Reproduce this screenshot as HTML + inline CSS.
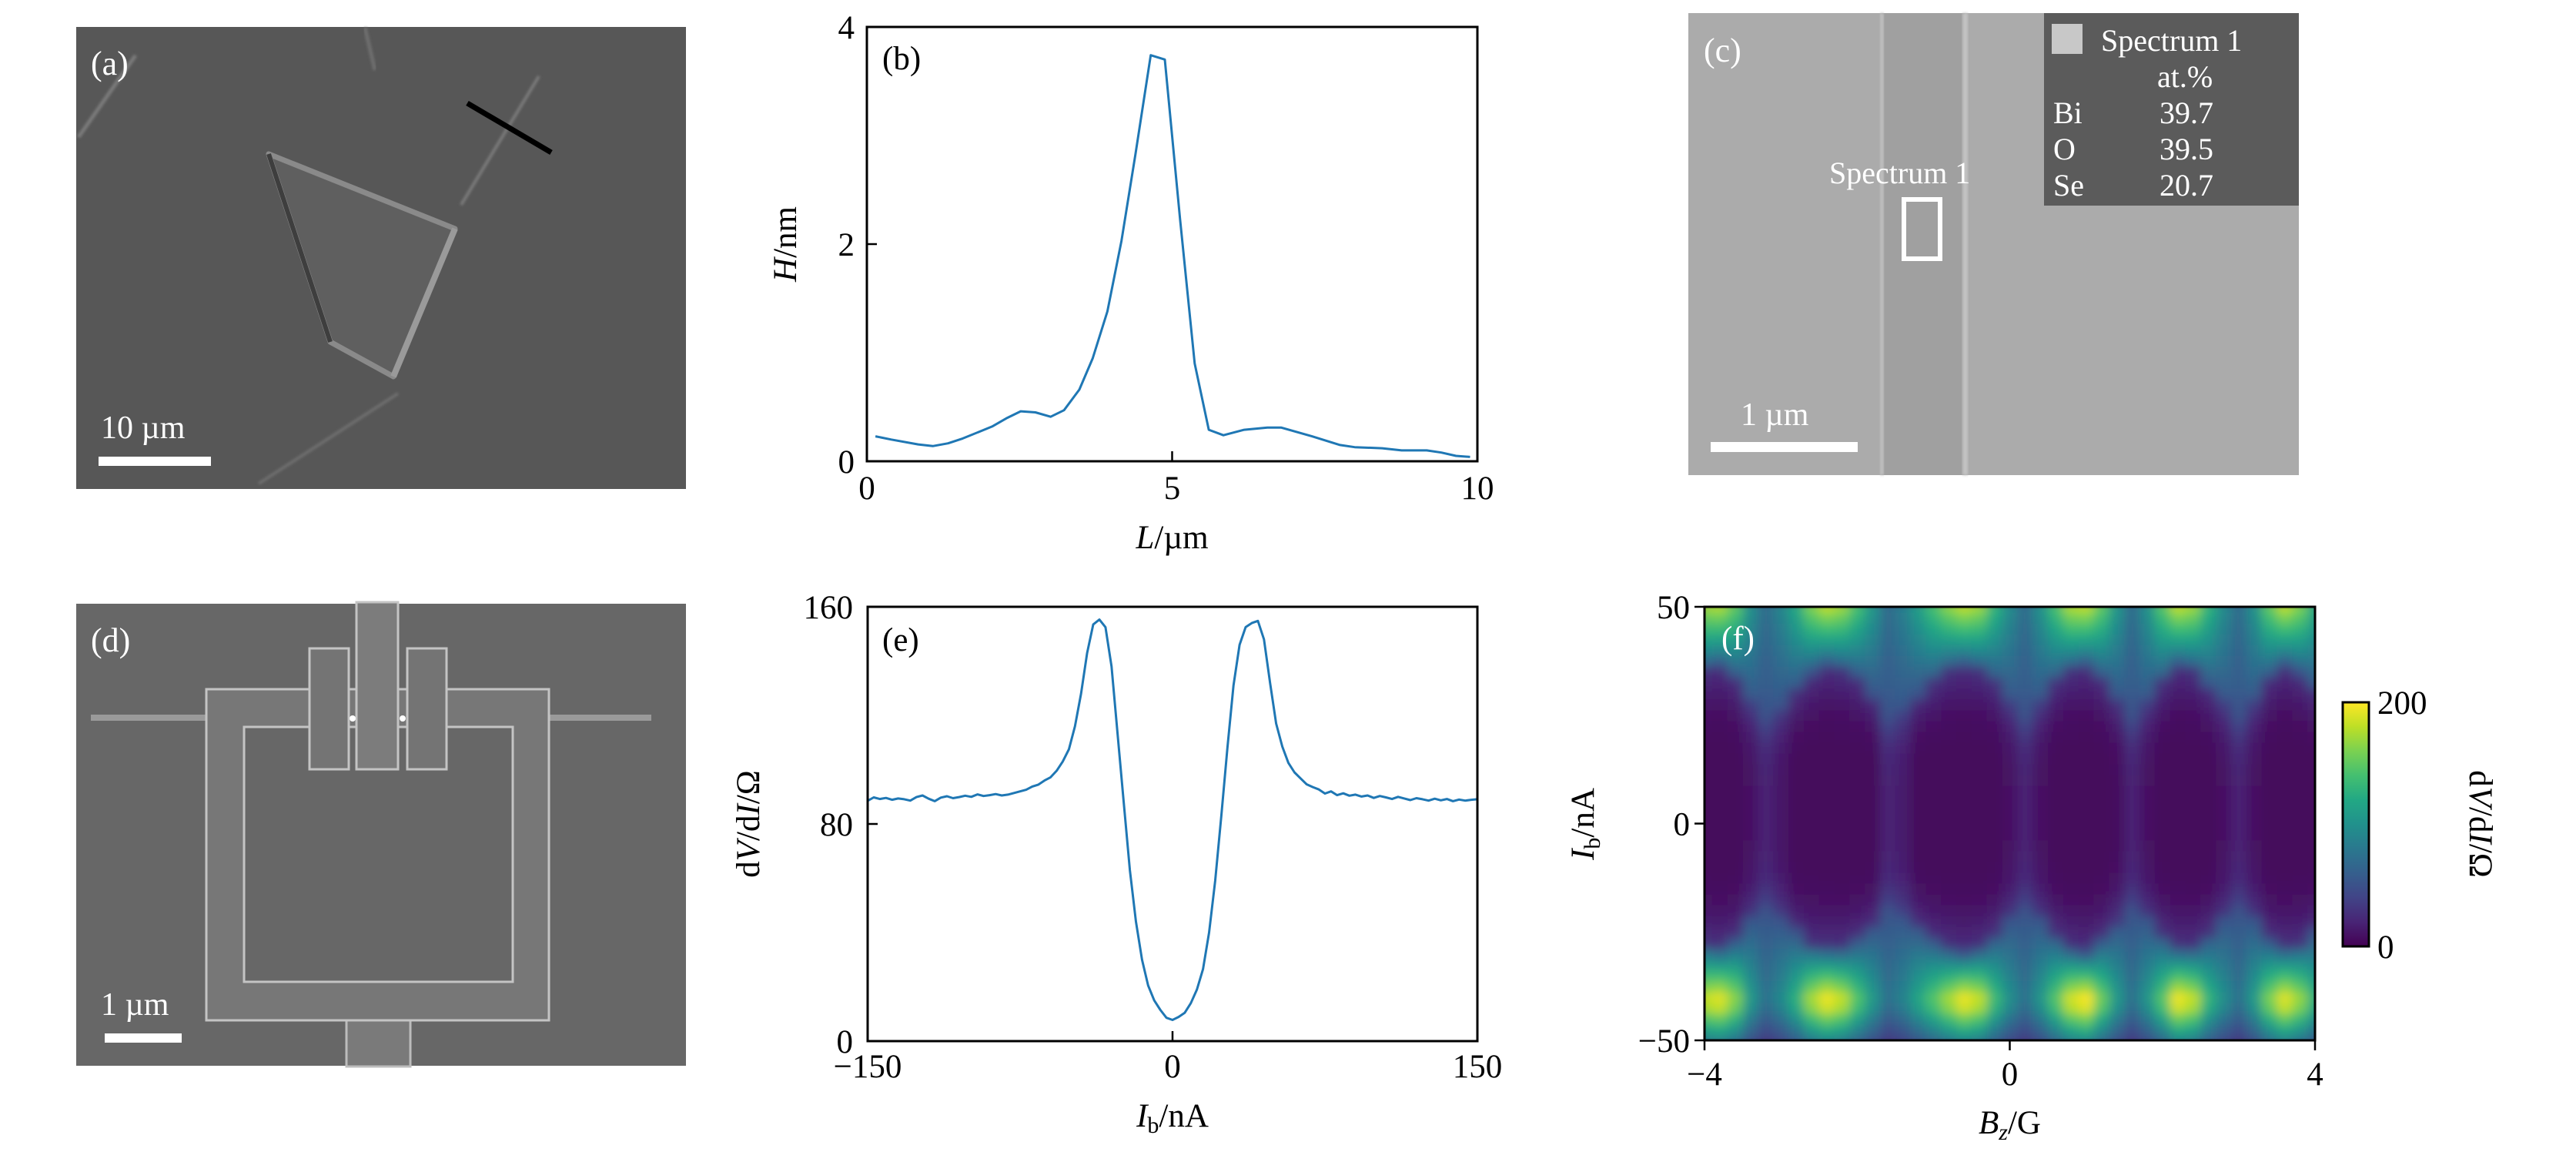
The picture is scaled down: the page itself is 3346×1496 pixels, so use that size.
<!DOCTYPE html>
<html><head><meta charset="utf-8">
<style>
html,body{margin:0;padding:0;background:#fff;}
svg{display:block;}
text{font-family:"Liberation Serif",serif;}
</style></head>
<body>
<svg id="fig" width="3346" height="1496" viewBox="0 0 3346 1496" xmlns="http://www.w3.org/2000/svg">
<defs>
  <linearGradient id="viridis" x1="0" y1="1" x2="0" y2="0">
    <stop offset="0" stop-color="#440154"/><stop offset="0.1" stop-color="#482475"/>
    <stop offset="0.2" stop-color="#414487"/><stop offset="0.3" stop-color="#355f8d"/>
    <stop offset="0.4" stop-color="#2a788e"/><stop offset="0.5" stop-color="#21918c"/>
    <stop offset="0.6" stop-color="#22a884"/><stop offset="0.7" stop-color="#44bf70"/>
    <stop offset="0.8" stop-color="#7ad151"/><stop offset="0.9" stop-color="#bddf26"/>
    <stop offset="1" stop-color="#fde725"/>
  </linearGradient>
  <clipPath id="clipF"><rect x="2214" y="788" width="793" height="563"/></clipPath>
  <clipPath id="clipB"><rect x="1126" y="35" width="793" height="564"/></clipPath>
  <clipPath id="clipE"><rect x="1127" y="788" width="792" height="564"/></clipPath>
  <filter id="blurF" x="-5%" y="-5%" width="110%" height="110%"><feGaussianBlur stdDeviation="7 6"/></filter>
  <filter id="soft"><feGaussianBlur stdDeviation="1.5"/></filter>
</defs>

<!-- Panel (a) SEM image -->
<g transform="translate(99,35)">
  <rect width="792" height="600" fill="#575757"/>
  <line x1="77" y1="37" x2="3" y2="143" stroke="#7a7a7a" stroke-width="5" filter="url(#soft)"/>
  <line x1="375" y1="1" x2="388" y2="56" stroke="#6e6e6e" stroke-width="5" filter="url(#soft)"/>
  <line x1="601" y1="64" x2="500" y2="231" stroke="#7a7a7a" stroke-width="4" filter="url(#soft)"/>
  <line x1="418" y1="476" x2="237" y2="593" stroke="#6e6e6e" stroke-width="4" filter="url(#soft)"/>
  <polygon points="250,165 492,262 412,454 330,409" fill="#5f5f5f" stroke="#8a8a8a" stroke-width="7" stroke-linejoin="round"/>
  <line x1="250" y1="165" x2="330" y2="409" stroke="#3e3e3e" stroke-width="6"/>
  <line x1="492" y1="262" x2="412" y2="454" stroke="#9a9a9a" stroke-width="8"/>
  <line x1="508" y1="99" x2="617" y2="163" stroke="#000" stroke-width="7"/>
  <rect x="29" y="558" width="146" height="12" fill="#fff"/>
  <text x="32" y="534" font-size="42" fill="#fff">10 µm</text>
  <text x="19" y="62" font-size="44" fill="#fff">(a)</text>
</g>

<!-- Panel (d) SEM image -->
<g transform="translate(99,784)">
  <rect width="792" height="600" fill="#676767"/>
  <rect x="351" y="541" width="83" height="60" fill="#7a7a7a" stroke="#bcbcbc" stroke-width="3"/>
  <rect x="19" y="144" width="728" height="8" fill="#9a9a9a"/>
  <path d="M169,111 H614 V541 H169 Z M218,160 V491 H567 V160 Z" fill="#777" fill-rule="evenodd" stroke="#c4c4c4" stroke-width="3"/>
  <rect x="303" y="58" width="51" height="157" fill="#747474" stroke="#c4c4c4" stroke-width="3"/>
  <rect x="430" y="58" width="51" height="157" fill="#747474" stroke="#c4c4c4" stroke-width="3"/>
  <rect x="364" y="-2" width="54" height="217" fill="#7c7c7c" stroke="#c4c4c4" stroke-width="3"/>
  <circle cx="359" cy="149" r="4" fill="#fff"/>
  <circle cx="424" cy="149" r="4" fill="#fff"/>
  <rect x="37" y="558" width="100" height="12" fill="#fff"/>
  <text x="32" y="534" font-size="42" fill="#fff">1 µm</text>
  <text x="19" y="62" font-size="44" fill="#fff">(d)</text>
</g>

<!-- Panel (c) SEM/EDS image -->
<g transform="translate(2193,17)">
  <rect width="793" height="600" fill="#ababab"/>
  <rect x="251" y="0" width="108" height="600" fill="#a0a0a0"/>
  <rect x="249" y="0" width="5" height="600" fill="#c0c0c0" filter="url(#soft)"/>
  <rect x="356" y="0" width="7" height="600" fill="#c2c2c2" filter="url(#soft)"/>
  <rect x="280" y="242" width="47" height="77" fill="none" stroke="#fff" stroke-width="6"/>
  <text x="183" y="221" font-size="40" fill="#fff">Spectrum 1</text>
  <rect x="462" y="0" width="331" height="250" fill="#5b5b5b"/>
  <rect x="472" y="14" width="40" height="39" fill="#c8c8c8"/>
  <text x="536" y="49" font-size="40" fill="#fff">Spectrum 1</text>
  <text x="609" y="96" font-size="40" fill="#fff">at.%</text>
  <text x="474" y="143" font-size="40" fill="#fff">Bi</text>
  <text x="612" y="143" font-size="40" fill="#fff">39.7</text>
  <text x="474" y="190" font-size="40" fill="#fff">O</text>
  <text x="612" y="190" font-size="40" fill="#fff">39.5</text>
  <text x="474" y="237" font-size="40" fill="#fff">Se</text>
  <text x="612" y="237" font-size="40" fill="#fff">20.7</text>
  <rect x="29" y="557" width="191" height="13" fill="#fff"/>
  <text x="68" y="535" font-size="42" fill="#fff">1 µm</text>
  <text x="20" y="63" font-size="44" fill="#fff">(c)</text>
</g>

<g id="plotB"></g>
<g id="plotE"></g>
<g id="plotF"></g>
</svg>

<script>
// ---------- Panel (b) data ----------
const lB = [0.14,0.40,0.84,1.08,1.33,1.57,2.05,2.30,2.52,2.76,3.01,3.23,3.48,3.70,3.94,4.17,4.40,4.65,4.88,5.13,5.37,5.60,5.84,6.18,6.56,6.79,7.29,7.75,7.99,8.44,8.76,9.17,9.41,9.65,9.88];
const hB = [0.23,0.20,0.155,0.14,0.165,0.21,0.32,0.40,0.46,0.45,0.41,0.47,0.66,0.95,1.38,2.03,2.83,3.74,3.70,2.23,0.90,0.29,0.24,0.29,0.31,0.31,0.23,0.15,0.13,0.12,0.10,0.10,0.08,0.05,0.04];
const xTicksB = [0,5,10];
const yTicksB = [0,2,4];

// ---------- Panel (e) data ----------
const ibE = [-150,-147,-144,-141,-138,-135,-132,-129,-126,-123,-120,-117,-114,-111,-108,-105,-102,-99,-96,-93,-90,-87,-84,-81,-78,-75,-72,-69,-66,-63,-60,-57,-54,-51,-48,-45,-42,-39,-36,-33,-30,-27,-24,-21,-18,-15,-12,-9,-6,-3,0,3,6,9,12,15,18,21,24,27,30,33,36,39,42,45,48,51,54,57,60,63,66,69,72,75,78,81,84,87,90,93,96,99,102,105,108,111,114,117,120,123,126,129,132,135,138,141,144,147,150];
const dvE = [88.5,89.8,89.2,89.6,88.9,89.4,89.1,88.6,89.9,90.5,89.3,88.4,89.7,90.2,89.5,89.9,90.4,90.0,90.9,90.3,90.6,91.0,90.5,90.8,91.4,92.0,92.6,93.8,94.5,96.0,97.2,99.6,103.0,107.5,116.0,128.0,143.0,153.5,155.3,152.5,138.0,113.0,88.0,63.0,44.0,30.0,20.5,15.0,11.5,8.6,7.8,8.9,10.4,14.0,19.0,26.5,40.0,59.0,83.0,108.0,131.0,146.0,152.5,154.0,154.8,148.0,132.0,117.0,108.5,102.5,99.0,96.8,94.6,93.6,92.7,91.2,92.0,90.6,91.3,90.4,90.8,90.1,90.5,89.6,90.3,89.8,89.2,90.0,89.4,88.8,89.5,89.1,88.6,89.3,88.7,89.2,88.4,89.0,88.6,88.9,89.1];
const xTicksE = [-150,0,150];
const yTicksE = [0,80,160];

// ---------- Panel (f) data (per field column) ----------
const bzF = [-4.0,-3.8,-3.6,-3.4,-3.2,-3.0,-2.8,-2.6,-2.4,-2.2,-2.0,-1.8,-1.6,-1.4,-1.2,-1.0,-0.8,-0.6,-0.4,-0.2,0.0,0.2,0.4,0.6,0.8,1.0,1.2,1.4,1.6,1.8,2.0,2.2,2.4,2.6,2.8,3.0,3.2,3.4,3.6,3.8,4.0];
const icUpF = [36,37,34,28,24,27,31,35,37,36,34,30,24,26,30,33,36,37,36,33,28,24,28,33,36,37,34,29,24,28,33,37,36,32,28,24,28,34,37,35,31];
const icDnF = [-28,-29,-27,-22,-20,-22,-25,-28,-29,-29,-27,-24,-20,-21,-24,-27,-29,-30,-29,-26,-22,-20,-22,-26,-29,-30,-27,-23,-20,-22,-26,-29,-29,-26,-22,-20,-22,-27,-29,-28,-25];
const peakUpF = [170,175,150,100,70,90,120,160,180,170,140,105,70,85,110,140,165,180,170,130,95,70,100,140,175,180,150,105,70,100,145,180,170,130,95,70,100,150,180,160,120];
const peakDnF = [190,200,170,110,75,95,130,180,205,190,150,110,75,90,120,150,180,205,190,140,100,75,105,150,195,210,160,110,75,105,150,205,190,135,100,75,110,165,200,175,130];
const ibRowsF = [-50,-47.5,-45,-42.5,-40,-37.5,-35,-32.5,-30,-27.5,-25,-22.5,-20,-17.5,-15,-12.5,-10,-7.5,-5,-2.5,0,2.5,5,7.5,10,12.5,15,17.5,20,22.5,25,27.5,30,32.5,35,37.5,40,42.5,45,47.5,50];
const xTicksF = [-4,0,4];
const yTicksF = [-50,0,50];
const cbTicks = [0,200];

const NS = "http://www.w3.org/2000/svg";
function mk(tag, attrs, parent){ const e=document.createElementNS(NS,tag); for(const k in attrs) e.setAttribute(k,attrs[k]); parent.appendChild(e); return e; }
function lin(d0,d1,p0,p1){ return v => p0 + (v-d0)/(d1-d0)*(p1-p0); }

const FS = 43;
function frame(g, X0,X1,Y0,Y1, name){
  const r = mk('rect',{x:X0,y:Y0,width:X1-X0,height:Y1-Y0,fill:'none',stroke:'#000','stroke-width':3},g);
  
  
}
function txt(g, s, x, y, anchor, name, extra){
  const t = mk('text',{x:x,y:y,'font-size':FS,'text-anchor':anchor,fill:'#000'},g);
  if(extra) for(const k in extra) t.setAttribute(k, extra[k]);
  t.innerHTML = s;
  
  
  return t;
}
function fmt(v){ return v<0 ? '\u2212'+Math.abs(v) : String(v); }

// ---------- draw (b) ----------
(function(){
  const g = document.getElementById('plotB');
  const X0=1126,X1=1919,Y0=35,Y1=599;
  const sx = lin(0,10,X0,X1), sy = lin(0,4,Y1,Y0);
  let d=''; lB.forEach((v,i)=>{ d += (i?'L':'M')+sx(v).toFixed(1)+','+sy(hB[i]).toFixed(1); });
  const p = mk('path',{d:d,fill:'none',stroke:'#1f77b4','stroke-width':3,'stroke-linejoin':'round','clip-path':'url(#clipB)'},g);
  
  
  frame(g,X0,X1,Y0,Y1,'axes-frame-b');
  xTicksB.forEach(v=>{
    const l = mk('line',{x1:sx(v),x2:sx(v),y1:Y1,y2:Y1-13,stroke:'#000','stroke-width':2.5},g);
     
    txt(g, fmt(v), sx(v), 648, 'middle', 'x-tick-label-b');
  });
  yTicksB.forEach(v=>{
    const l = mk('line',{x1:X0,x2:X0+13,y1:sy(v),y2:sy(v),stroke:'#000','stroke-width':2.5},g);
     
    txt(g, fmt(v), 1110, sy(v)+15, 'end', 'y-tick-label-b');
  });
  txt(g, '<tspan font-style="italic">L</tspan>/µm', (X0+X1)/2, 712, 'middle', 'x-axis-title-b');
  txt(g, '<tspan font-style="italic">H</tspan>/nm', 0, 0, 'middle', 'y-axis-title-b', {transform:'translate(1034,317) rotate(-90)'});
  txt(g, '(b)', 1146, 90, 'start', 'panel-label-b');
})();

// ---------- draw (e) ----------
(function(){
  const g = document.getElementById('plotE');
  const X0=1127,X1=1919,Y0=788,Y1=1352;
  const sx = lin(-150,150,X0,X1), sy = lin(0,160,Y1,Y0);
  let d=''; ibE.forEach((v,i)=>{ d += (i?'L':'M')+sx(v).toFixed(1)+','+sy(dvE[i]).toFixed(1); });
  const p = mk('path',{d:d,fill:'none',stroke:'#1f77b4','stroke-width':3,'stroke-linejoin':'round','clip-path':'url(#clipE)'},g);
  
  
  frame(g,X0,X1,Y0,Y1,'axes-frame-e');
  xTicksE.forEach(v=>{
    const l = mk('line',{x1:sx(v),x2:sx(v),y1:Y1,y2:Y1-13,stroke:'#000','stroke-width':2.5},g);
     
    txt(g, fmt(v), sx(v), 1399, 'middle', 'x-tick-label-e');
  });
  yTicksE.forEach(v=>{
    const l = mk('line',{x1:X0,x2:X0+13,y1:sy(v),y2:sy(v),stroke:'#000','stroke-width':2.5},g);
     
    txt(g, fmt(v), 1108, sy(v)+15, 'end', 'y-tick-label-e');
  });
  txt(g, '<tspan font-style="italic">I</tspan><tspan font-size="30" dy="8">b</tspan><tspan dy="-8">/nA</tspan>', (X0+X1)/2, 1463, 'middle', 'x-axis-title-e');
  txt(g, 'd<tspan font-style="italic">V</tspan>/d<tspan font-style="italic">I</tspan>/Ω', 0, 0, 'middle', 'y-axis-title-e', {transform:'translate(986,1070) rotate(-90)'});
  txt(g, '(e)', 1146, 845, 'start', 'panel-label-e');
})();

// ---------- draw (f) ----------
const vstops = ['#440154','#482475','#414487','#355f8d','#2a788e','#21918c','#22a884','#44bf70','#7ad151','#bddf26','#fde725'];
function hex2(c){ return [1,3,5].map(i=>parseInt(c.substr(i,2),16)); }
function viridis(t){
  t=Math.max(0,Math.min(1,t)); const f=t*10, i=Math.min(9,Math.floor(f)), r=f-i;
  const a=hex2(vstops[i]), b=hex2(vstops[i+1]);
  return 'rgb('+a.map((v,k)=>Math.round(v+(b[k]-v)*r)).join(',')+')';
}
function cellValue(j, ib){
  const up=icUpF[j], dn=icDnF[j], pu=peakUpF[j], pd=peakDnF[j];
  if(ib>=up){ const t=(ib-up)/(50-up); return 50+(pu-50)*Math.pow(Math.min(1,t),0.8); }
  if(ib<=dn){
    if(ib>=-41){ const t=(dn-ib)/(dn+41); return 50+(pd-50)*Math.pow(Math.min(1,t),0.8); }
    return pd - pd*0.55*((-41-ib)/9);
  }
  const mid=(up+dn)/2, half=(up-dn)/2;
  const base = 4 + Math.max(0,(30-up))/6*16;
  return base + 28*Math.pow(Math.abs(ib-mid)/half,4);
}
(function(){
  const g = document.getElementById('plotF');
  const X0=2214,X1=3007,Y0=788,Y1=1351;
  const sx = lin(-4,4,X0,X1), sy = lin(-50,50,Y1,Y0);
  const bg = mk('rect',{x:X0,y:Y0,width:X1-X0,height:Y1-Y0,fill:'#440154'},g);
   
  const clip = mk('g',{'clip-path':'url(#clipF)'},g);
   
  const cells = mk('g',{filter:'url(#blurF)'},clip);
   
  const dB = 0.2, dI = 2.5;
  bzF.forEach((b,j)=>{
    ibRowsF.forEach(ib=>{
      const x0=sx(b-dB/2), x1=sx(b+dB/2), y0=sy(ib+dI/2), y1=sy(ib-dI/2);
      const c = mk('rect',{x:x0.toFixed(1),y:y0.toFixed(1),width:(x1-x0+0.6).toFixed(1),height:(y1-y0+0.6).toFixed(1),fill:viridis(cellValue(j,ib)/200)},cells);
      
      
    });
  });
  frame(g,X0,X1,Y0,Y1,'axes-frame-f');
  xTicksF.forEach(v=>{
    const l = mk('line',{x1:sx(v),x2:sx(v),y1:Y1,y2:Y1+13,stroke:'#000','stroke-width':2.5},g);
     
    txt(g, fmt(v), sx(v), 1409, 'middle', 'x-tick-label-f');
  });
  yTicksF.forEach(v=>{
    const l = mk('line',{x1:X0,x2:X0-13,y1:sy(v),y2:sy(v),stroke:'#000','stroke-width':2.5},g);
     
    txt(g, fmt(v), 2195, sy(v)+15, 'end', 'y-tick-label-f');
  });
  txt(g, '<tspan font-style="italic">B</tspan><tspan font-size="30" dy="8" font-style="italic">z</tspan><tspan dy="-8">/G</tspan>', (X0+X1)/2, 1472, 'middle', 'x-axis-title-f');
  txt(g, '<tspan font-style="italic">I</tspan><tspan font-size="30" dy="8">b</tspan><tspan dy="-8">/nA</tspan>', 0, 0, 'middle', 'y-axis-title-f', {transform:'translate(2070,1070) rotate(-90)'});
  const pl = txt(g, '(f)', 2236, 843, 'start', 'panel-label-f'); pl.setAttribute('fill','#fff');
  const CX0=3043, CX1=3077, CY0=912, CY1=1229;
  const cb = mk('rect',{x:CX0,y:CY0,width:CX1-CX0,height:CY1-CY0,fill:'url(#viridis)',stroke:'#000','stroke-width':3},g);
   
  const cy = lin(0,200,CY1,CY0);
  cbTicks.forEach(v=>{
    txt(g, String(v), 3088, cy(v)+15, 'start', 'colorbar-tick-label');
  });
  txt(g, 'd<tspan font-style="italic">V</tspan>/d<tspan font-style="italic">I</tspan>/Ω', 0, 0, 'middle', 'colorbar-title', {transform:'translate(3208,1070) rotate(90)'});
})();
</script>
</body></html>
